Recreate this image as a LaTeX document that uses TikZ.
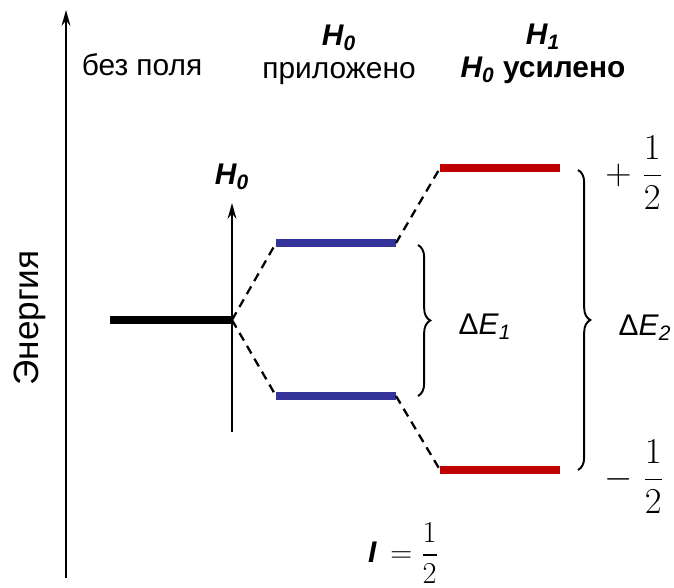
\documentclass[tikz,border=0pt]{standalone}
\usepackage{amsmath}
\usepackage{fontspec}
\setmainfont{Liberation Sans}
\usetikzlibrary{arrows.meta, decorations.pathreplacing}
\definecolor{levelblue}{RGB}{51,51,153}
\definecolor{levelred}{RGB}{192,0,0}

\begin{document}
\begin{tikzpicture}[>={Stealth[length=9pt, width=5pt]},
  lbl/.style={font=\fontsize{17}{19}\selectfont},
  hlbl/.style={font=\fontsize{17}{19}\selectfont\bfseries\itshape},
  frac/.style={font=\fontsize{21}{25}\selectfont},
  level/.style={line width=4pt},
  axis/.style={line width=1.1pt},
  link/.style={line width=1.3pt, dash pattern=on 5pt off 3.5pt},
  gap/.style={line width=1.1pt, decorate, decoration={brace, amplitude=7pt}}]
  \useasboundingbox (0,0) rectangle (13.48,11.76);

  % Energy axis
  \coordinate (e0) at (1.32,0.2);
  \coordinate (e1) at (1.32,11.56);
  \draw[axis, ->] (e0) -- (e1);
  \node[rotate=90, font=\fontsize{20}{24}\selectfont] (energy) at (0.6,5.4) {Энергия};

  % Column headers
  \node[lbl] (nofield) at (2.84,10.46) {без поля};
  \node[lbl, align=center] (applied) at (6.78,10.66) {\textbf{\textit{H\textsubscript{0}}}\\приложено};
  \node[lbl, align=center, font=\fontsize{17}{19}\selectfont\bfseries] (boosted) at (10.86,10.68) {\textit{H\textsubscript{1}}\\\textit{H\textsubscript{0}} усилено};

  % Level without field
  \coordinate (free l) at (2.2,5.36);
  \coordinate (free r) at (4.64,5.36);
  \draw[level, black] (free l) -- (free r);

  % Field arrow
  \coordinate (h0 bot) at (4.64,3.12);
  \coordinate (h0 top) at (4.64,7.7);
  \draw[axis, ->] (h0 bot) -- (h0 top);
  \node[hlbl] (h0) at (4.64,8.22) {H\textsubscript{0}};

  % Levels in H0
  \coordinate (bu l) at (5.52,6.9);
  \coordinate (bu r) at (7.92,6.9);
  \coordinate (bd l) at (5.52,3.84);
  \coordinate (bd r) at (7.92,3.84);
  \draw[level, levelblue] (bu l) -- (bu r);
  \draw[level, levelblue] (bd l) -- (bd r);

  % Levels in H1
  \coordinate (ru l) at (8.8,8.4);
  \coordinate (ru r) at (11.2,8.4);
  \coordinate (rd l) at (8.8,2.36);
  \coordinate (rd r) at (11.2,2.36);
  \draw[level, levelred] (ru l) -- (ru r);
  \draw[level, levelred] (rd l) -- (rd r);

  % Splitting lines
  \draw[link] (free r) -- (bu l);
  \draw[link] (free r) -- (bd l);
  \draw[link] (bu r) -- (ru l);
  \draw[link] (bd r) -- (rd l);

  % Energy gaps
  \coordinate (g1 top) at (8.36,6.86);
  \coordinate (g1 bot) at (8.36,3.84);
  \coordinate (g2 top) at (11.56,8.36);
  \coordinate (g2 bot) at (11.56,2.36);
  \draw[gap] (g1 top) -- (g1 bot);
  \draw[gap] (g2 top) -- (g2 bot);
  \node[lbl, anchor=west] (de1) at (9.05,5.22) {Δ\textit{E}\textsubscript{\textit{1}}};
  \node[lbl, anchor=west] (de2) at (12.25,5.2) {Δ\textit{E}\textsubscript{\textit{2}}};

  % Spin values
  \node[frac] (up) at (12.68,8.3) {$+\;\dfrac{1}{2}$};
  \node[frac] (down) at (12.68,2.22) {$-\;\dfrac{1}{2}$};
  \node[lbl] (spin) at (8.07,0.7) {\textbf{\textit{I}}\, $=\dfrac{1}{2}$};
\end{tikzpicture}
\end{document}
